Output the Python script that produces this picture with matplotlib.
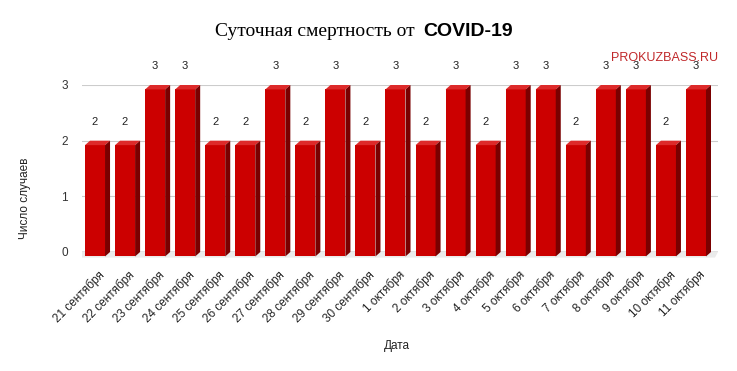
import matplotlib
matplotlib.use("Agg")
from matplotlib import pyplot as plt
from matplotlib.patches import Polygon

# data
dates = ["21 сентября", "22 сентября", "23 сентября", "24 сентября", "25 сентября",
         "26 сентября", "27 сентября", "28 сентября", "29 сентября", "30 сентября",
         "1 октября", "2 октября", "3 октября", "4 октября", "5 октября",
         "6 октября", "7 октября", "8 октября", "9 октября", "10 октября", "11 октября"]
deaths = [2, 2, 3, 3, 2, 2, 3, 2, 3, 2, 3, 2, 3, 2, 3, 3, 2, 3, 3, 2, 3]

front_color = "#cc0000"
top_color = "#dd2a2a"
side_color = "#7a0000"

fig = plt.figure(figsize=(7.37, 3.71), dpi=100)
ax = fig.add_axes([82 / 737, 1 - 252 / 371, (718 - 82) / 737, (252 - 85) / 371])

ax.set_xlim(-0.433, 20.733)
ax.set_ylim(0, 3)

# 3d look
half_w = 0.333
dx = 0.167
dy = 0.08

# floor shadow
ax.add_patch(Polygon([(-0.433, 0), (20.733, 0), (20.733 - 0.1, -0.1), (-0.433, -0.1)],
                     closed=True, facecolor="#ebebeb", edgecolor="none", clip_on=False, zorder=1))

for i, v in enumerate(deaths):
    x0, x1 = i - half_w, i + half_w
    front = Polygon([(x0, -dy), (x1, -dy), (x1, v - dy), (x0, v - dy)], closed=True,
                    facecolor=front_color, edgecolor="none", clip_on=False, zorder=3)
    top = Polygon([(x0, v - dy), (x1, v - dy), (x1 + dx, v), (x0 + dx, v)], closed=True,
                  facecolor=top_color, edgecolor="none", clip_on=False, zorder=3)
    side = Polygon([(x1, -dy), (x1 + dx, 0), (x1 + dx, v), (x1, v - dy)], closed=True,
                   facecolor=side_color, edgecolor="none", clip_on=False, zorder=3)
    ax.add_patch(front)
    ax.add_patch(top)
    ax.add_patch(side)
    ax.text(i, v + 0.34, str(v), ha="center", va="center", fontsize=8,
            family="Liberation Sans", color="#222222", zorder=4)

ax.set_yticks([0, 1, 2, 3])
ax.set_yticklabels(["0", "1", "2", "3"], family="Liberation Sans", fontsize=8.5, color="#333333")
ax.tick_params(axis="y", length=0, pad=10)
ax.grid(axis="y", color="#cccccc", linewidth=0.8, zorder=0)
ax.set_axisbelow(True)
ax.axhline(0, color="#333333", linewidth=0.9, zorder=2)

ax.set_xticks(range(len(dates)))
ax.set_xticklabels([])
ax.tick_params(axis="x", length=0)
for i, d in enumerate(dates):
    ax.annotate(d, xy=(i + 0.25, 0), xytext=(0, -15), textcoords="offset points",
                rotation=45, ha="right", va="center", rotation_mode="anchor",
                fontsize=8.5, family="Liberation Sans", color="#222222")

for s in ax.spines.values():
    s.set_visible(False)

fig.text(397 / 737, 1 - 346 / 371, "Дата", ha="center", va="center",
         fontsize=8.5, family="Liberation Sans", color="#222222")
fig.text(25 / 737, 1 - 198 / 371, "Число случаев", ha="center", va="center", rotation=90,
         fontsize=8.5, family="Liberation Sans", color="#222222")

# title: serif part + bold sans part
fig.text(420 / 737, 1 - 31 / 371, "Суточная смертность от ", ha="right", va="center",
         fontsize=14, family="Liberation Serif", color="#000000")
fig.text(423 / 737, 1 - 31 / 371, "COVID-19", ha="left", va="center",
         fontsize=14, family="Liberation Sans", weight="bold", color="#000000")

fig.text(718 / 737, 1 - 58 / 371, "PROKUZBASS.RU", ha="right", va="center",
         fontsize=9, family="Liberation Sans", color="#c0282a")

fig.savefig("out.png", dpi=100)
